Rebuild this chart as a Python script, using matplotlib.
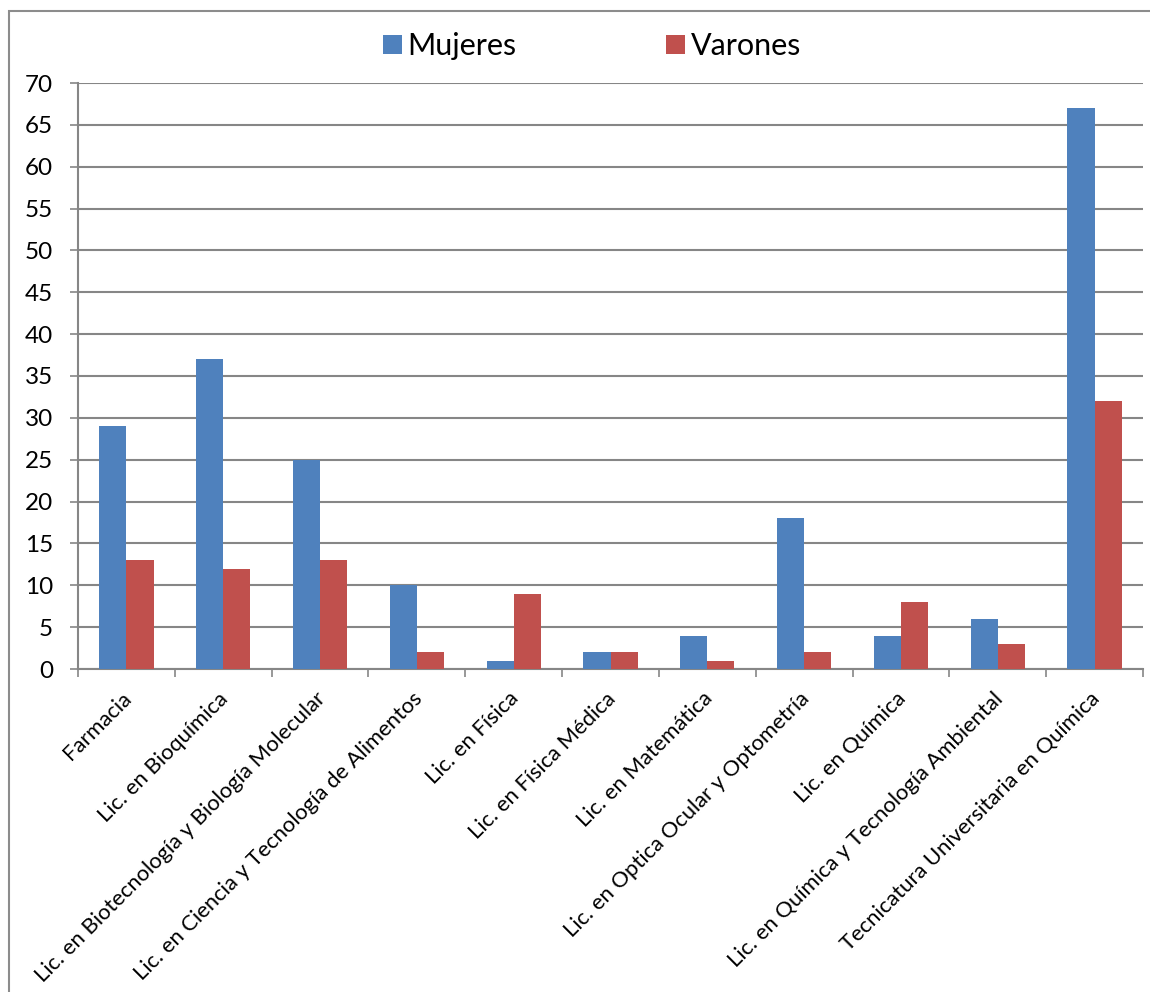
import matplotlib.pyplot as plt
import numpy as np
from matplotlib.patches import Rectangle
from matplotlib.ticker import FixedLocator
from matplotlib.transforms import ScaledTranslation

carreras = ["Farmacia", "Lic. en Bioquímica", "Lic. en Biotecnología y Biología Molecular",
            "Lic. en Ciencia y Tecnología de Alimentos", "Lic. en Física", "Lic. en Física Médica",
            "Lic. en Matemática", "Lic. en Optica Ocular y Optometría", "Lic. en Química",
            "Lic. en Química y Tecnología Ambiental", "Tecnicatura Universitaria en Química"]
mujeres = [29, 37, 25, 10, 1, 2, 4, 18, 4, 6, 67]
varones = [13, 12, 13, 2, 9, 2, 1, 2, 8, 3, 32]

plt.rcParams['font.family'] = ['Lato', 'DejaVu Sans']

fig = plt.figure(figsize=(11.5, 9.92), dpi=100)
ax = fig.add_axes([78 / 1150, 1 - 669 / 992, (1143 - 78) / 1150, (669 - 83) / 992])

# outer chart border
fig.patches.append(Rectangle((9 / 1150, -0.1), 1.2, 1.1 - 11 / 992, transform=fig.transFigure,
                             fill=False, edgecolor='#8c8c8c', linewidth=1.5))

x = np.arange(len(carreras))
w = 0.28
ax.bar(x - w / 2, mujeres, w, color='#4F81BD', label='Mujeres', zorder=3)
ax.bar(x + w / 2, varones, w, color='#C0504D', label='Varones', zorder=3)

ax.set_xlim(-0.5, len(carreras) - 0.5)
ax.set_ylim(0, 70)
ax.set_yticks(range(0, 71, 5))
ax.yaxis.grid(True, color='#868686', linewidth=1.5, zorder=0)
ax.tick_params(axis='y', length=6, width=1.2, color='#868686', labelsize=17.5, pad=12)

ax.xaxis.set_major_locator(FixedLocator(np.arange(-0.5, len(carreras), 1.0)))
ax.xaxis.set_minor_locator(FixedLocator(x))
ax.set_xticklabels([])
ax.set_xticklabels(carreras, minor=True, rotation=45, ha='right', va='top',
                   rotation_mode='anchor', fontsize=15.8)
ax.tick_params(axis='x', which='major', length=6, width=1.2, color='#868686')
ax.tick_params(axis='x', which='minor', length=0, pad=14)
shift = ScaledTranslation(-5 / 100, 0, fig.dpi_scale_trans)
for lab in ax.xaxis.get_minorticklabels():
    lab.set_transform(lab.get_transform() + shift)

for s in ['top', 'right']:
    ax.spines[s].set_visible(False)
ax.spines['left'].set_color('#868686')
ax.spines['left'].set_linewidth(1.5)
ax.spines['bottom'].set_color('#868686')
ax.spines['bottom'].set_linewidth(1.5)

fig.legend(loc='center', bbox_to_anchor=(0.515, 1 - 46 / 992), ncol=2, frameon=False,
           fontsize=22, handlelength=0.6, handleheight=0.6, columnspacing=4.9,
           handletextpad=0.2)

fig.savefig('out.png', dpi=100)
